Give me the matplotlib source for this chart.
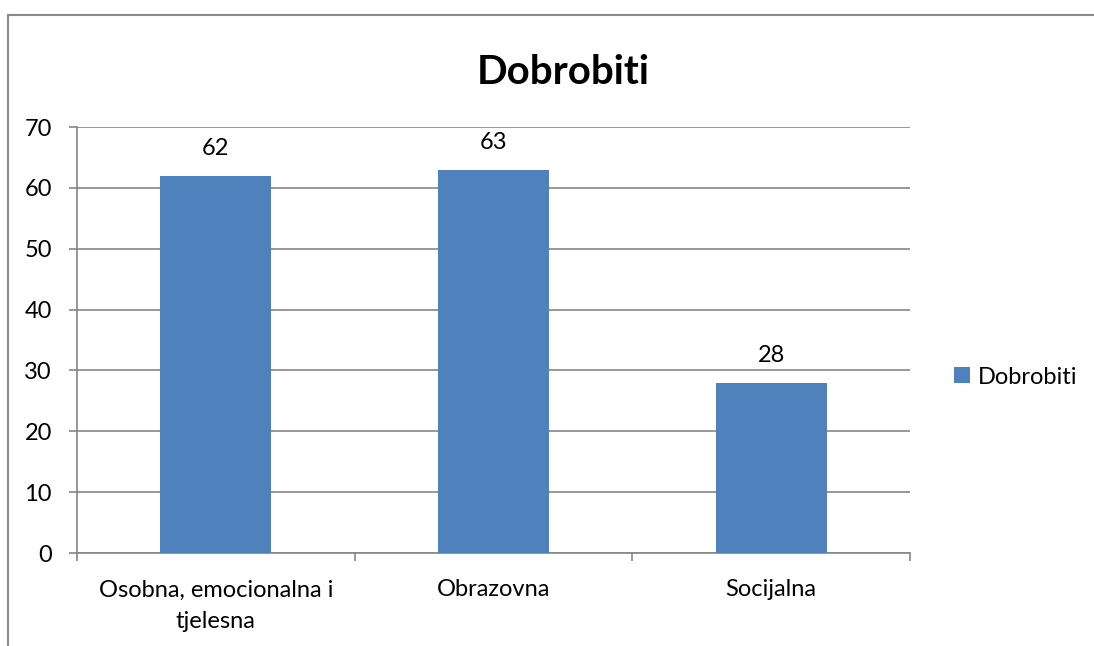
import matplotlib.pyplot as plt
from matplotlib.lines import Line2D
from matplotlib.patches import Patch
import numpy as np

categories = ["Osobna, emocionalna i\ntjelesna", "Obrazovna", "Socijalna"]
values = [62, 63, 28]
series_name = "Dobrobiti"
title = "Dobrobiti"
yticks = [0, 10, 20, 30, 40, 50, 60, 70]

bar_color = "#4F81BD"
grid_color = "#868686"

plt.rcParams['font.family'] = ['Lato', 'DejaVu Sans']

fig = plt.figure(figsize=(10.94, 6.46), dpi=100)
ax = fig.add_axes([77 / 1094, 1 - 553 / 646, (910 - 77) / 1094, (553 - 127) / 646])

x = np.arange(len(categories))
bars = ax.bar(x, values, width=0.4, color=bar_color, zorder=3, label=series_name)

ax.set_xlim(-0.5, len(categories) - 0.5)
ax.set_ylim(0, 70)
ax.set_yticks(yticks)
ax.set_yticklabels([str(t) for t in yticks], fontsize=17)
ax.yaxis.grid(True, color=grid_color, linewidth=1.2, zorder=0)
ax.tick_params(axis='y', length=6, width=1.2, color=grid_color, pad=12)

# category labels centred, tick marks at category boundaries
ax.set_xticks(x)
ax.set_xticklabels(categories, fontsize=17, linespacing=1.6)
ax.tick_params(axis='x', length=0, pad=19)
ax.set_xticks(np.arange(-0.5, len(categories), 1.0), minor=True)
ax.tick_params(axis='x', which='minor', length=6, width=1.2, color=grid_color)

for s in ['top', 'right']:
    ax.spines[s].set_visible(False)
for s in ['left', 'bottom']:
    ax.spines[s].set_color(grid_color)
    ax.spines[s].set_linewidth(1.2)

for b, v in zip(bars, values):
    ax.annotate(str(v), (b.get_x() + b.get_width() / 2, v), xytext=(0, 12),
                textcoords='offset points', ha='center', va='bottom', fontsize=17)

fig.text(563 / 1094, 1 - 73 / 646, title, ha='center', va='center',
         fontsize=29, fontweight='bold')

handle = Patch(facecolor=bar_color, edgecolor='none')
fig.legend([handle], [series_name], loc='center left',
           bbox_to_anchor=(933 / 1094, 1 - 377 / 646), frameon=False,
           fontsize=17, handlelength=0.65, handleheight=0.65, handletextpad=0.35)

# outer chart frame (only top and left edges visible)
fig.add_artist(Line2D([8 / 1094, 8 / 1094], [0, 1 - 15 / 646], color='#8a8a8a', linewidth=1.5))
fig.add_artist(Line2D([8 / 1094, 1], [1 - 15 / 646, 1 - 15 / 646], color='#8a8a8a', linewidth=1.5))

fig.savefig("out.png", dpi=100)
